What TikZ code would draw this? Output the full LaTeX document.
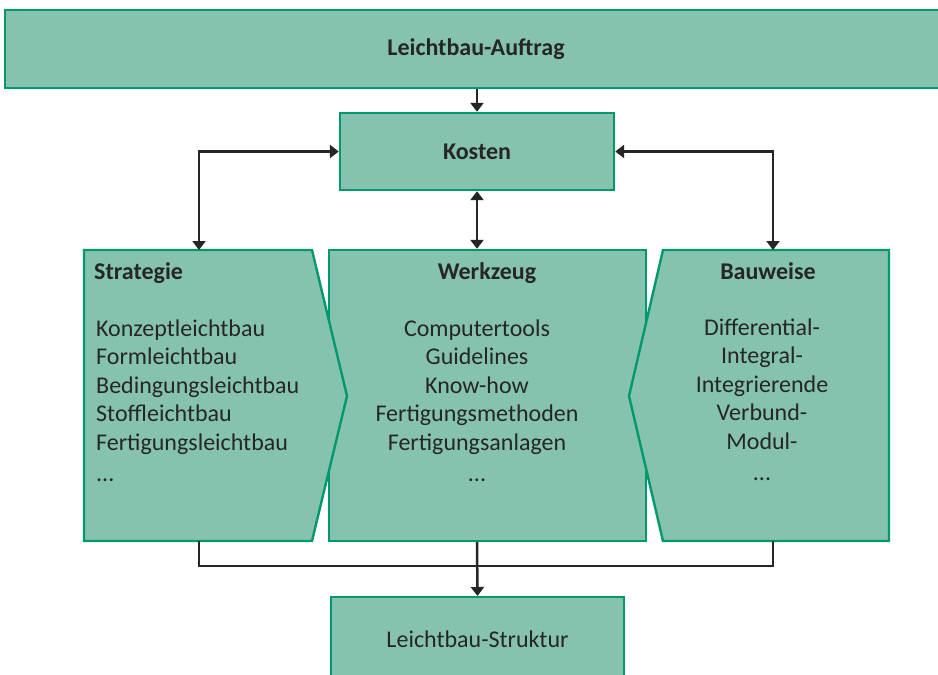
\documentclass[tikz,border=0pt]{standalone}
\usepackage{fontspec}
\setmainfont{Carlito}
\usepackage{tikz}
\usetikzlibrary{arrows.meta}
\definecolor{boxfill}{HTML}{86C3AE}
\definecolor{boxline}{HTML}{00996D}
\definecolor{ink}{HTML}{262626}
\tikzset{
  box/.style={draw=boxline, fill=boxfill, line width=2.4pt, text=ink, inner sep=0pt},
  txt/.style={text=ink, inner sep=0pt},
  link/.style={draw=ink, line width=2.5pt},
  oneway/.style={link, -{Triangle[length=9pt,width=13pt]}},
  twoway/.style={link, {Triangle[length=9pt,width=13pt]}-{Triangle[length=9pt,width=13pt]}}
}

\begin{document}
\begin{tikzpicture}[x=1pt,y=-1pt,font=\fontsize{24pt}{28.6pt}\selectfont]
  \useasboundingbox (0,0) rectangle (938,675);%
  {
    % auftrag
    \node[box, minimum width=942, minimum height=78] (auftrag) at (476,49) {\textbf{Leichtbau-Auftrag}};%
    % kosten
    \node[box, minimum width=274, minimum height=77] (kosten) at (477,151.5) {\textbf{Kosten}};%
    \draw[oneway] (kosten.north |- auftrag.south) -- (kosten.north);%
  }
  {
    % werkzeug
    \node[box, minimum width=317, minimum height=291] (werkzeug) at (487.5,395.5) {};%
    \node[txt, anchor=base] (werkzeugT) at (487,279) {\textbf{Werkzeug}};%
    \node[txt, anchor=base, align=center] (werkzeugB) at (477,481) {Computertools\\Guidelines\\Know-how\\Fertigungsmethoden\\Fertigungsanlagen\\[2pt]...};%
    % strategie
    \draw[box] (84,250) -- (312,250) -- (347,396) -- (312,541) -- (84,541) -- cycle;%
    \coordinate (stratN) at (199,250);%
    \coordinate (stratS) at (199,541);%
    \node[txt, anchor=base west] (strategieT) at (94,279) {\textbf{Strategie}};%
    \node[txt, anchor=base west, align=left] (strategieB) at (96,481) {Konzeptleichtbau\\Formleichtbau\\Bedingungsleichtbau\\Stoffleichtbau\\Fertigungsleichtbau\\[2pt]...};%
    % bauweise
    \draw[box] (663,250) -- (889,250) -- (889,541) -- (663,541) -- (629,396) -- cycle;%
    \coordinate (bauN) at (773,250);%
    \coordinate (bauS) at (773,541);%
    \node[txt, anchor=base] (bauweiseT) at (768,279) {\textbf{Bauweise}};%
    \node[txt, anchor=base, align=center] (bauweiseB) at (762,480) {Differential-\\Integral-\\Integrierende\\Verbund-\\Modul-\\[2pt]...};%
  }
  {
    % kosten <-> columns
    \draw[twoway] (kosten.west) -| (stratN);%
    \draw[twoway] (kosten.east) -| (bauN);%
    \draw[twoway] (kosten.south) -- (kosten.south |- werkzeug.north);%
  }
  {% collect the columns
    \node[box, minimum width=293, minimum height=84, anchor=north] (struktur) at (477.5,596) {Leichtbau-Struktur};%
    \coordinate (busL) at (199,566);%
    \draw[link] (stratS) -- (busL) -| (bauS);%
    \draw[oneway] (werkzeug.south -| kosten.south) -- (struktur.north);%
  }
\end{tikzpicture}
\end{document}
